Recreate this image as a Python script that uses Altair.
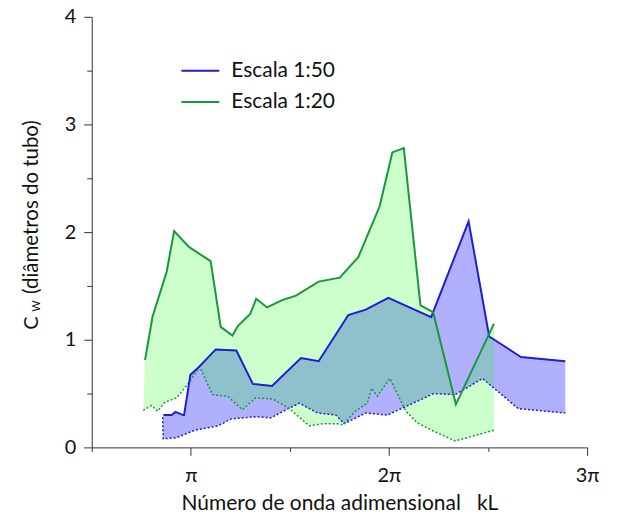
import altair as alt
import pandas as pd

# x values in multiples of pi (kL / pi)
blue_upper_x = [0.862, 0.903, 0.923, 0.961, 0.966, 0.998, 1.037, 1.126, 1.23, 1.313, 1.41, 1.556, 1.645, 1.795, 1.883, 1.997, 2.213, 2.402, 2.506, 2.666, 2.89]
blue_upper_y = [0.30, 0.30, 0.33, 0.30, 0.30, 0.675, 0.74, 0.91, 0.90, 0.59, 0.57, 0.83, 0.80, 1.23, 1.28, 1.39, 1.21, 2.10, 1.03, 0.84, 0.80]

blue_lower_x = [0.858, 0.861, 0.928, 1.02, 1.137, 1.205, 1.33, 1.405, 1.481, 1.548, 1.64, 1.732, 1.774, 1.883, 1.992, 2.226, 2.335, 2.472, 2.653, 2.89]
blue_lower_y = [0.28, 0.08, 0.09, 0.16, 0.20, 0.265, 0.285, 0.275, 0.35, 0.41, 0.32, 0.30, 0.22, 0.32, 0.30, 0.50, 0.49, 0.64, 0.36, 0.32]

green_upper_x = [0.769, 0.807, 0.878, 0.916, 0.992, 1.10, 1.151, 1.21, 1.238, 1.30, 1.33, 1.385, 1.464, 1.531, 1.645, 1.752, 1.846, 1.953, 2.017, 2.075, 2.159, 2.223, 2.338, 2.53]
green_upper_y = [0.81, 1.216, 1.63, 2.01, 1.86, 1.73, 1.12, 1.04, 1.13, 1.24, 1.38, 1.30, 1.37, 1.41, 1.54, 1.577, 1.77, 2.24, 2.74, 2.78, 1.32, 1.256, 0.40, 1.15]

green_lower_x = [0.760, 0.802, 0.832, 0.869, 0.928, 0.986, 1.045, 1.109, 1.187, 1.26, 1.327, 1.414, 1.497, 1.598, 1.665, 1.74, 1.766, 1.833, 1.891, 1.913, 1.941, 2.005, 2.084, 2.142, 2.226, 2.335, 2.53]
green_lower_y = [0.343, 0.39, 0.336, 0.42, 0.46, 0.59, 0.75, 0.49, 0.475, 0.35, 0.46, 0.45, 0.36, 0.20, 0.22, 0.22, 0.21, 0.34, 0.41, 0.55, 0.475, 0.64, 0.34, 0.23, 0.15, 0.06, 0.16]

series_names = ["Escala 1:50", "Escala 1:20"]
line_colors = ["#1e1ed2", "#17983a"]

x_ticks = [0.5, 1, 1.5, 2, 2.5, 3]
y_ticks = [0, 0.5, 1, 1.5, 2, 2.5, 3, 3.5, 4]

def line_rows(name, part, xs, ys):
    return [{"series": name, "part": part, "idx": i, "x": x, "y": y}
            for i, (x, y) in enumerate(zip(xs, ys))]

def poly_rows(name, ux, uy, lx, ly):
    px = list(ux) + list(reversed(lx))
    py = list(uy) + list(reversed(ly))
    return [{"series": name, "idx": i, "x": x, "y": y} for i, (x, y) in enumerate(zip(px, py))]

lines = pd.DataFrame(
    line_rows(series_names[0], "upper", blue_upper_x, blue_upper_y)
    + line_rows(series_names[0], "lower", blue_lower_x, blue_lower_y)
    + line_rows(series_names[1], "upper", green_upper_x, green_upper_y)
    + line_rows(series_names[1], "lower", green_lower_x, green_lower_y)
)
polys = pd.DataFrame(
    poly_rows(series_names[0], blue_upper_x, blue_upper_y, blue_lower_x, blue_lower_y)
    + poly_rows(series_names[1], green_upper_x, green_upper_y, green_lower_x, green_lower_y)
)

FONT = "Lato"

xscale = alt.Scale(domain=[0.5, 3], nice=False, zero=False)
yscale = alt.Scale(domain=[0, 4], nice=False, zero=False)

xaxis = alt.Axis(
    values=x_ticks,
    labelExpr="datum.value == 1 ? 'π' : datum.value == 2 ? '2π' : datum.value == 3 ? '3π' : ''",
    tickSize={"expr": "datum.value % 1 == 0 ? 8 : 4"},
    grid=False, domainColor="#333", tickColor="#333", labelFlush=False,
    labelFont=FONT, labelFontSize=20, labelColor="#111", labelPadding=10,
    title="Número de onda adimensional\u00a0\u00a0\u00a0kL",
    titleFont=FONT, titleFontSize=21, titleFontWeight="normal", titleColor="#111",
    titlePadding=7,
)
yaxis = alt.Axis(
    values=y_ticks,
    labelExpr="datum.value % 1 == 0 ? format(datum.value, 'd') : ''",
    tickSize={"expr": "datum.value % 1 == 0 ? 8 : 5"},
    grid=False, domainColor="#333", tickColor="#333", labelFlush=False,
    labelFont=FONT, labelFontSize=20, labelColor="#111", labelPadding=8,
    title="",
)

base_poly = alt.Chart(polys)
blue_fill = base_poly.transform_filter(alt.datum.series == series_names[0]).mark_line(
    fill="#b0b0ff", strokeOpacity=0
).encode(
    x=alt.X("x:Q", scale=xscale, axis=xaxis),
    y=alt.Y("y:Q", scale=yscale, axis=yaxis),
    order=alt.Order("idx:Q"),
)
green_fill = base_poly.transform_filter(alt.datum.series == series_names[1]).mark_line(
    fill="#17ff17", fillOpacity=0.22, strokeOpacity=0
).encode(
    x=alt.X("x:Q", scale=xscale),
    y=alt.Y("y:Q", scale=yscale),
    order=alt.Order("idx:Q"),
)

base_lines = alt.Chart(lines)
upper = base_lines.transform_filter(alt.datum.part == "upper").mark_line(strokeWidth=2).encode(
    x=alt.X("x:Q", scale=xscale),
    y=alt.Y("y:Q", scale=yscale),
    order=alt.Order("idx:Q"),
    color=alt.Color(
        "series:N",
        scale=alt.Scale(domain=series_names, range=line_colors),
        legend=alt.Legend(
            title=None, orient="none", legendX=89, legendY=34,
            symbolType="stroke", symbolSize=1444, symbolStrokeWidth=2,
            labelFont=FONT, labelFontSize=21, labelColor="#111",
            labelOffset=11, rowPadding=1.5, padding=0,
        ),
    ),
)
lower_blue = base_lines.transform_filter(
    (alt.datum.part == "lower") & (alt.datum.series == series_names[0])
).mark_line(strokeWidth=1.5, strokeDash=[2, 2], color=line_colors[0]).encode(
    x=alt.X("x:Q", scale=xscale),
    y=alt.Y("y:Q", scale=yscale),
    order=alt.Order("idx:Q"),
)
lower_green = base_lines.transform_filter(
    (alt.datum.part == "lower") & (alt.datum.series == series_names[1])
).mark_line(strokeWidth=1.5, strokeDash=[2, 2], color=line_colors[1]).encode(
    x=alt.X("x:Q", scale=xscale),
    y=alt.Y("y:Q", scale=yscale),
    order=alt.Order("idx:Q"),
)

one = alt.InlineData(values=[{"k": 0}])
t_c = alt.Chart(one).mark_text(
    text="C", angle=270, align="left", baseline="alphabetic", font=FONT, fontSize=20, color="#111"
).encode(x=alt.value(-54), y=alt.value(314))
t_w = alt.Chart(one).mark_text(
    text="W", angle=270, align="left", baseline="alphabetic", font=FONT, fontSize=11, color="#111"
).encode(x=alt.value(-52), y=alt.value(296))
t_rest = alt.Chart(one).mark_text(
    text="(diâmetros do tubo)", angle=270, align="left", baseline="alphabetic", font=FONT, fontSize=20.5, color="#111"
).encode(x=alt.value(-54), y=alt.value(278))

chart = alt.layer(
    blue_fill, green_fill, lower_blue, lower_green, upper, t_c, t_w, t_rest
).properties(
    width=497, height=432,
    autosize=alt.AutoSizeParams(type="none"),
    padding={"left": 84, "top": 8, "right": 30, "bottom": 68},
).configure_view(stroke=None)

chart.save("out.html", embed_options={"renderer": "svg", "actions": False})
